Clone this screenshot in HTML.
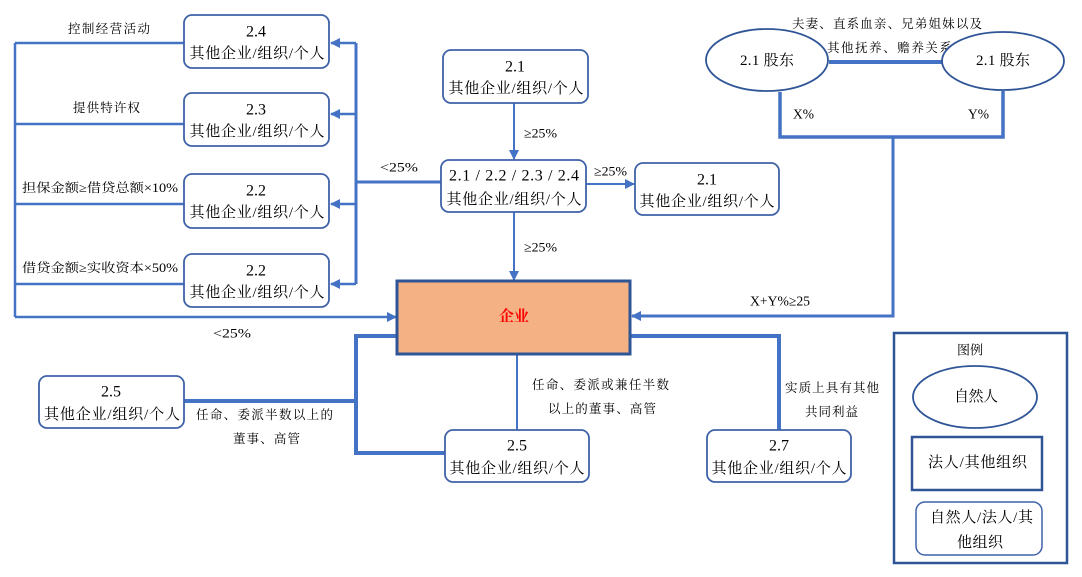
<!DOCTYPE html>
<html><head><meta charset="utf-8"><style>
html,body{margin:0;padding:0;background:#fff;}
svg{display:block;}
text{font-family:"Liberation Serif","Noto Serif CJK SC",serif;fill:#000;}
.b{font-size:15px;}
.s{font-size:12.5px;}
</style></head><body>
<svg width="1082" height="577" viewBox="0 0 1082 577" xmlns="http://www.w3.org/2000/svg">
<defs>
<marker id="ah" markerWidth="10" markerHeight="10" refX="9" refY="5" orient="auto" markerUnits="userSpaceOnUse">
<path d="M0,0 L10,5 L0,10 Z" fill="#4472C4"/>
</marker>
</defs>
<g fill="none" stroke="#4472C4" stroke-linejoin="miter">
<!-- left outer loop -->
<path d="M15,43 V317" stroke-width="2.5"/>
<path d="M15,43 H184 M15,124 H184 M15,204 H184 M15,284 H184" stroke-width="2.5"/>
<path d="M15,317 H396" stroke-width="2.5" marker-end="url(#ah)"/>
<!-- bracket -->
<path d="M356,43 V284" stroke-width="3"/>
<path d="M356,43 H331" stroke-width="2.5" marker-end="url(#ah)"/>
<path d="M356,114 H331" stroke-width="2.5" marker-end="url(#ah)"/>
<path d="M356,204 H331" stroke-width="2.5" marker-end="url(#ah)"/>
<path d="M356,284 H331" stroke-width="2.5" marker-end="url(#ah)"/>
<path d="M356,182 H441" stroke-width="3"/>
<!-- center arrows -->
<path d="M514,103 V159" stroke-width="2" marker-end="url(#ah)"/>
<path d="M514,212 V280" stroke-width="2" marker-end="url(#ah)"/>
<path d="M586,184 H634" stroke-width="2" marker-end="url(#ah)"/>
<!-- bottom thick -->
<path d="M397,336 H356 V453 H445" stroke-width="4"/>
<path d="M184,401 H356" stroke-width="4"/>
<path d="M630,336 H779 V430" stroke-width="4"/>
<path d="M517,354 V430" stroke-width="2"/>
<!-- shareholders -->
<path d="M829,62 H942" stroke-width="4"/>
<path d="M780,92 V137 H1003 V91" stroke-width="3.5"/>
<path d="M893,137 V316 H632" stroke-width="3" marker-end="url(#ah)"/>
</g>

<!-- boxes -->
<g fill="#fff" stroke="#3F62A8" stroke-width="1.8">
<rect x="184" y="15" width="145" height="53" rx="8"/>
<rect x="184" y="93" width="145" height="53" rx="8"/>
<rect x="184" y="174" width="145" height="54" rx="8"/>
<rect x="184" y="254" width="145" height="53" rx="8"/>
<rect x="443" y="50" width="145" height="53" rx="8"/>
<rect x="441" y="160" width="145" height="52" rx="8"/>
<rect x="635" y="163" width="144" height="52" rx="8"/>
<rect x="39" y="376" width="145" height="52" rx="8"/>
<rect x="445" y="430" width="144" height="52" rx="8"/>
<rect x="707" y="430" width="144" height="52" rx="8"/>
</g>
<rect x="397" y="281" width="233" height="73" fill="#F4B183" stroke="#2F5597" stroke-width="3"/>

<!-- text in boxes -->
<g class="b" text-anchor="middle" dominant-baseline="central">
<text x="256" y="32" font-size="16">2.4</text>
<text x="257" y="54" textLength="135" lengthAdjust="spacing">其他企业/组织/个人</text>
<text x="256" y="110" font-size="16">2.3</text>
<text x="257" y="132" textLength="135" lengthAdjust="spacing">其他企业/组织/个人</text>
<text x="256" y="191" font-size="16">2.2</text>
<text x="257" y="213" textLength="135" lengthAdjust="spacing">其他企业/组织/个人</text>
<text x="256" y="271" font-size="16">2.2</text>
<text x="257" y="293" textLength="135" lengthAdjust="spacing">其他企业/组织/个人</text>
<text x="515" y="67" font-size="16">2.1</text>
<text x="516" y="89" textLength="135" lengthAdjust="spacing">其他企业/组织/个人</text>
<text x="514" y="176" font-size="16" textLength="130" lengthAdjust="spacing">2.1 / 2.2 / 2.3 / 2.4</text>
<text x="514" y="200" textLength="135" lengthAdjust="spacing">其他企业/组织/个人</text>
<text x="707" y="180" font-size="16">2.1</text>
<text x="707" y="202" textLength="135" lengthAdjust="spacing">其他企业/组织/个人</text>
<text x="111" y="392" font-size="16">2.5</text>
<text x="112" y="415" textLength="136" lengthAdjust="spacing">其他企业/组织/个人</text>
<text x="517" y="446" font-size="16">2.5</text>
<text x="517" y="469" textLength="135" lengthAdjust="spacing">其他企业/组织/个人</text>
<text x="779" y="446" font-size="16">2.7</text>
<text x="779" y="469" textLength="135" lengthAdjust="spacing">其他企业/组织/个人</text>
</g>
<text x="514" y="317" text-anchor="middle" dominant-baseline="central" font-size="15" font-weight="bold" style="fill:#FF0000">企业</text>

<!-- connector labels -->
<g class="s" dominant-baseline="central">
<text x="524" y="133" font-size="13" textLength="33" lengthAdjust="spacingAndGlyphs">≥25%</text>
<text x="594" y="171" font-size="13" textLength="33" lengthAdjust="spacingAndGlyphs">≥25%</text>
<text x="524" y="247" font-size="13" textLength="33" lengthAdjust="spacingAndGlyphs">≥25%</text>
<text x="380" y="167" font-size="13" textLength="38" lengthAdjust="spacingAndGlyphs">&lt;25%</text>
<text x="213" y="333" font-size="13" textLength="38" lengthAdjust="spacingAndGlyphs">&lt;25%</text>
<text x="68" y="29" textLength="82" lengthAdjust="spacing">控制经营活动</text>
<text x="73" y="108" textLength="67" lengthAdjust="spacing">提供特许权</text>
<text x="22" y="188" textLength="156" lengthAdjust="spacingAndGlyphs">担保金额≥借贷总额×10%</text>
<text x="22" y="268" textLength="156" lengthAdjust="spacingAndGlyphs">借贷金额≥实收资本×50%</text>
<text x="792" y="24" textLength="190" lengthAdjust="spacing">夫妻、直系血亲、兄弟姐妹以及</text>
<text x="827" y="48" textLength="125" lengthAdjust="spacing">其他抚养、赡养关系</text>
<text x="793" y="115" font-size="14" textLength="21" lengthAdjust="spacingAndGlyphs">X%</text>
<text x="968" y="115" font-size="14" textLength="21" lengthAdjust="spacingAndGlyphs">Y%</text>
<text x="750" y="302" font-size="14" textLength="60" lengthAdjust="spacingAndGlyphs">X+Y%≥25</text>
<text x="196" y="415" textLength="137" lengthAdjust="spacing">任命、委派半数以上的</text>
<text x="233" y="439" textLength="67" lengthAdjust="spacing">董事、高管</text>
<text x="532" y="385" textLength="137" lengthAdjust="spacing">任命、委派或兼任半数</text>
<text x="548" y="409" textLength="108" lengthAdjust="spacing">以上的董事、高管</text>
<text x="785" y="388" textLength="94" lengthAdjust="spacing">实质上具有其他</text>
<text x="805" y="412" textLength="53" lengthAdjust="spacing">共同利益</text>
</g>

<!-- shareholder ellipses -->
<g fill="#fff" stroke="#2F5597" stroke-width="1.8">
<ellipse cx="767" cy="60" rx="61" ry="31"/>
<ellipse cx="1003" cy="61" rx="61" ry="29"/>
</g>
<g class="b" text-anchor="middle" dominant-baseline="central">
<text x="767" y="61" textLength="54" lengthAdjust="spacing">2.1 股东</text>
<text x="1003" y="61" textLength="54" lengthAdjust="spacing">2.1 股东</text>
</g>

<!-- legend -->
<rect x="894" y="333" width="173" height="230" fill="#fff" stroke="#2F5597" stroke-width="2.5"/>
<ellipse cx="975" cy="397" rx="62" ry="31" fill="#fff" stroke="#2F5597" stroke-width="1.8"/>
<rect x="912" y="437" width="130" height="53" fill="#fff" stroke="#2F5597" stroke-width="2.5"/>
<rect x="916" y="502" width="126" height="53" rx="9" fill="#fff" stroke="#3F62A8" stroke-width="1.5"/>
<g dominant-baseline="central">
<text x="957" y="350" font-size="13" textLength="26" lengthAdjust="spacing">图例</text>
<text x="954" y="397" font-size="15" textLength="44" lengthAdjust="spacing">自然人</text>
<text x="928" y="463" font-size="15" textLength="99" lengthAdjust="spacing">法人/其他组织</text>
<text x="930" y="518" font-size="15" textLength="103" lengthAdjust="spacing">自然人/法人/其</text>
<text x="957" y="543" font-size="15" textLength="46" lengthAdjust="spacing">他组织</text>
</g>
</svg>
</body></html>
